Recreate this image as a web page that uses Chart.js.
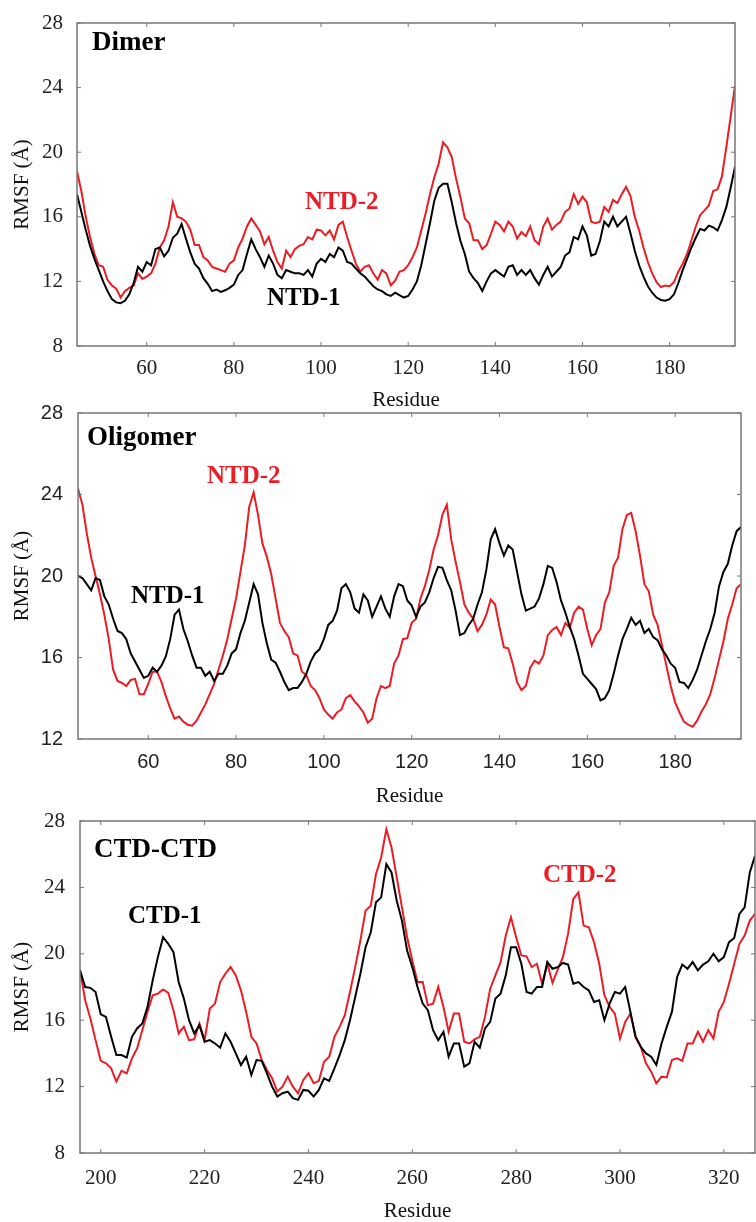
<!DOCTYPE html>
<html>
<head>
<meta charset="utf-8">
<script src="https://cdn.jsdelivr.net/npm/chart.js@4"></script>
<style>
  html, body { margin: 0; padding: 0; background: #fff; overflow: hidden; }
  canvas { position: absolute; left: 0; }
</style>
</head>
<body>
<canvas id="dimerChart" width="756" height="415" style="top:0px"></canvas>
<canvas id="oligomerChart" width="756" height="415" style="top:400px"></canvas>
<canvas id="ctdChart" width="756" height="414" style="top:810px"></canvas>
<script>
// first residue of each series (one value per residue)
var ntdStart = 44;
var ctdStart = 196;

// tick labels
var ntdTicksX = [60, 80, 100, 120, 140, 160, 180];
var ctdTicksX = [200, 220, 240, 260, 280, 300, 320];
var ticksY8 = [8, 12, 16, 20, 24, 28];
var ticksY12 = [12, 16, 20, 24, 28];

// Dimer, residues 44-195
var dimerNtd1 = [
  17.4,16.3,15.2,14.2,13.4,12.7,12.0,11.4,10.9,10.7,
  10.65,10.8,11.2,11.9,12.9,12.6,13.2,13.0,14.0,14.1,
  13.55,13.9,14.7,14.95,15.55,14.65,13.8,13.1,12.8,12.2,
  11.85,11.4,11.5,11.35,11.45,11.6,11.8,12.4,12.7,13.7,
  14.6,14.0,13.5,12.9,13.6,13.1,12.4,12.2,12.7,12.6,
  12.5,12.5,12.4,12.7,12.3,13.1,13.4,13.2,13.7,13.5,
  14.1,13.9,13.2,13.1,12.8,12.5,12.3,12.0,11.7,11.5,
  11.4,11.2,11.1,11.3,11.15,11.0,11.1,11.5,12.0,13.0,
  14.3,15.6,17.0,17.8,18.05,18.05,16.9,15.6,14.5,13.7,
  12.6,12.2,11.9,11.4,12.0,12.5,12.7,12.5,12.3,12.9,
  13.0,12.4,12.7,12.4,12.7,12.2,11.8,12.4,12.9,12.3,
  12.6,12.9,13.6,13.8,14.75,14.6,15.4,14.85,13.6,13.7,
  14.5,15.7,15.4,16.0,15.4,15.7,16.0,15.0,13.9,13.0,
  12.3,11.7,11.3,11.0,10.85,10.8,10.9,11.2,11.9,12.7,
  13.4,14.1,14.7,15.25,15.15,15.45,15.35,15.15,15.8,16.6,
  17.8,19.1
];
var dimerNtd2 = [
  18.8,17.6,16.0,14.75,13.7,13.0,12.9,12.1,11.75,11.55,
  11.0,11.4,11.6,11.75,12.5,12.15,12.3,12.5,13.1,14.1,
  14.55,15.4,16.9,16.0,15.9,15.7,15.2,14.25,14.25,13.5,
  13.3,12.9,12.8,12.7,12.6,13.1,13.3,14.1,14.65,15.4,
  15.9,15.5,15.1,14.3,14.75,13.9,13.2,12.8,13.9,13.5,
  14.0,14.2,14.3,14.75,14.6,15.2,15.15,14.85,15.15,14.6,
  15.5,15.7,14.75,13.9,13.1,12.6,12.9,13.0,12.5,12.1,
  12.7,12.5,11.75,12.05,12.6,12.7,13.0,13.5,14.1,15.15,
  16.2,17.4,18.45,19.3,20.6,20.3,19.7,18.35,17.2,15.9,
  15.6,14.55,14.55,14.0,14.25,14.95,15.7,15.5,15.1,15.7,
  15.4,14.65,15.05,14.8,15.4,14.55,14.3,15.4,15.9,15.2,
  15.5,15.7,16.3,16.5,17.4,16.8,17.25,16.9,15.7,15.6,
  15.7,16.6,16.3,17.05,16.85,17.4,17.85,17.3,16.0,15.15,
  14.1,13.2,12.5,11.95,11.65,11.75,11.7,11.95,12.6,13.1,
  13.7,14.55,15.4,16.1,16.4,16.7,17.6,17.7,18.5,20.3,
  22.2,24.1
];

// Oligomer, residues 44-195
var oligoNtd1 = [
  20.0,19.9,19.6,19.3,19.9,19.8,19.0,18.6,17.9,17.3,
  17.2,16.9,16.2,15.8,15.4,15.0,15.1,15.5,15.3,15.6,
  16.05,16.9,18.1,18.35,17.4,16.8,16.1,15.5,15.5,15.1,
  15.3,14.85,15.2,15.2,15.6,16.2,16.4,17.2,17.8,18.7,
  19.6,19.1,17.7,16.7,15.9,15.75,15.3,14.8,14.4,14.5,
  14.5,14.8,15.2,15.8,16.2,16.4,16.9,17.6,17.8,18.3,
  19.4,19.6,19.2,18.4,18.2,19.1,18.8,18.0,18.5,19.0,
  18.4,18.0,19.0,19.6,19.5,18.8,18.55,18.0,18.5,18.7,
  19.2,19.9,20.45,20.4,19.8,19.3,18.3,17.1,17.2,17.6,
  17.9,18.6,19.2,20.3,21.8,22.3,21.6,21.0,21.5,21.3,
  20.2,19.1,18.3,18.4,18.5,18.9,19.6,20.5,20.4,19.7,
  18.8,18.2,17.5,16.9,16.1,15.2,14.95,14.7,14.45,13.9,
  14.0,14.4,15.2,16.1,16.9,17.4,17.95,17.6,17.8,17.2,
  17.4,17.0,16.85,16.4,16.1,15.7,15.5,14.8,14.75,14.5,
  14.9,15.4,16.1,16.8,17.4,18.2,19.5,20.2,20.6,21.5,
  22.2,22.4
];
var oligoNtd2 = [
  24.3,23.5,22.1,20.9,20.0,19.1,18.1,16.9,15.4,14.85,
  14.75,14.6,14.9,14.95,14.2,14.2,14.7,15.3,15.3,14.8,
  14.1,13.5,13.0,13.1,12.85,12.7,12.65,12.9,13.3,13.7,
  14.2,14.7,15.4,16.1,16.9,17.9,18.9,20.2,21.5,23.4,
  24.1,23.0,21.6,20.95,20.1,18.9,17.7,17.3,17.0,16.2,
  16.1,15.3,15.15,14.6,14.4,14.0,13.45,13.2,13.0,13.3,
  13.45,14.0,14.15,13.85,13.6,13.3,12.8,13.0,14.0,14.6,
  14.5,14.6,15.7,16.1,16.9,16.95,17.7,17.9,18.9,19.5,
  20.3,21.3,22.0,23.0,23.5,21.8,20.7,19.7,18.6,18.2,
  17.9,17.3,17.6,18.1,18.85,18.6,17.5,16.5,16.45,15.7,
  14.8,14.4,14.6,15.5,15.85,15.7,16.1,17.1,17.35,17.5,
  17.1,17.7,17.45,18.2,18.5,18.35,17.4,16.6,17.1,17.4,
  18.7,19.2,20.5,20.9,22.3,23.0,23.1,22.2,21.0,19.6,
  19.25,18.1,17.6,16.6,15.6,14.6,13.8,13.3,12.85,12.7,
  12.6,12.9,13.35,13.7,14.2,15.0,15.9,16.8,17.9,18.6,
  19.4,19.6
];

// CTD-CTD, residues 196-326
var ctdCtd1 = [
  19.0,18.0,17.95,17.7,16.35,16.2,15.0,13.9,13.9,13.75,
  15.0,15.5,15.8,16.8,18.4,19.8,21.0,20.6,20.1,18.3,
  17.3,16.0,15.2,15.7,14.7,14.8,14.6,14.35,15.2,14.7,
  14.0,13.3,13.8,12.7,13.6,13.55,12.8,12.0,11.4,11.6,
  11.7,11.3,11.2,11.8,11.75,11.4,11.8,12.5,12.35,13.1,
  13.9,14.8,16.0,17.4,18.8,20.4,21.3,23.1,23.4,25.4,
  24.9,23.2,22.0,20.2,19.2,18.0,17.0,16.6,15.4,14.8,
  15.3,13.8,14.6,14.6,13.2,13.4,14.7,14.35,15.5,15.9,
  17.3,17.6,18.7,20.4,20.4,19.4,17.7,17.6,18.0,18.0,
  19.5,19.1,19.2,19.45,19.35,18.2,18.3,18.0,17.8,17.1,
  17.2,16.0,17.0,17.7,17.6,18.0,16.5,15.0,14.4,14.0,
  13.8,13.3,14.6,15.6,16.5,18.6,19.35,19.1,19.5,19.0,
  19.35,19.55,20.0,19.55,19.8,20.7,20.95,22.4,22.8,24.9,
  25.9
];
var ctdCtd2 = [
  19.05,17.2,16.1,14.8,13.55,13.4,13.1,12.3,12.95,12.8,
  13.7,14.3,15.4,16.5,17.5,17.6,17.85,17.65,16.6,15.2,
  15.6,14.8,14.85,15.8,14.8,16.7,17.0,18.3,18.8,19.2,
  18.7,17.8,16.5,15.0,14.6,13.6,13.0,12.5,11.7,12.0,
  12.6,12.0,11.6,12.4,12.8,12.2,12.35,13.5,13.8,15.0,
  15.6,16.3,17.7,19.2,20.8,22.6,22.9,24.8,25.8,27.5,
  26.4,24.6,22.8,21.0,19.6,18.3,18.3,16.9,17.0,18.0,
  16.8,15.3,16.4,16.4,14.7,14.6,14.85,15.0,16.2,17.9,
  18.7,19.5,21.1,22.2,21.0,19.9,19.85,19.2,19.4,18.2,
  19.4,18.25,19.05,19.8,21.2,23.3,23.7,21.7,21.6,20.7,
  19.4,17.5,16.8,16.4,14.9,15.9,16.4,15.0,14.4,13.4,
  12.9,12.2,12.6,12.55,13.6,13.7,13.55,14.6,14.6,15.3,
  14.7,15.4,14.9,16.5,17.1,18.2,19.4,20.6,21.1,22.0,
  22.4
];

var black = '#000000';
var red = '#ec1c24';
var serif = 'Liberation Serif';
var sans = 'Liberation Sans';

function toPoints(start, values) {
  return values.map(function (v, i) { return { x: start + i, y: v }; });
}

// plot frame with small inward tick marks on all four sides
var framePlugin = {
  id: 'frame',
  afterDatasetsDraw: function (chart) {
    var a = chart.chartArea, ctx = chart.ctx;
    var xs = chart.scales.x, ys = chart.scales.y;
    ctx.save();
    ctx.strokeStyle = '#777';
    ctx.lineWidth = 1;
    ctx.beginPath();
    xs.ticks.forEach(function (t) {
      var px = xs.getPixelForValue(t.value);
      ctx.moveTo(px, a.top); ctx.lineTo(px, a.top + 4);
      ctx.moveTo(px, a.bottom); ctx.lineTo(px, a.bottom - 4);
    });
    ys.ticks.forEach(function (t) {
      var py = ys.getPixelForValue(t.value);
      ctx.moveTo(a.left, py); ctx.lineTo(a.left + 4, py);
      ctx.moveTo(a.right, py); ctx.lineTo(a.right - 4, py);
    });
    ctx.stroke();
    ctx.lineWidth = 1.5;
    ctx.strokeRect(a.left, a.top, a.right - a.left, a.bottom - a.top);
    ctx.restore();
  }
};

// panel name and series labels
var labelPlugin = {
  id: 'panelLabels',
  afterDraw: function (chart, args, opts) {
    var ctx = chart.ctx;
    ctx.save();
    ctx.textBaseline = 'alphabetic';
    ctx.textAlign = 'left';
    (opts.items || []).forEach(function (it) {
      ctx.font = it.font;
      ctx.fillStyle = it.color;
      ctx.fillText(it.text, it.x, it.y);
    });
    ctx.restore();
  }
};

function makePanel(id, p) {
  var ctx = document.getElementById(id).getContext('2d');
  return new Chart(ctx, {
    type: 'line',
    data: {
      datasets: [
        { data: toPoints(p.start, p.s1), borderColor: black, borderWidth: 2, pointRadius: 0, tension: 0, fill: false },
        { data: toPoints(p.start, p.s2), borderColor: red, borderWidth: 2, pointRadius: 0, tension: 0, fill: false }
      ]
    },
    options: {
      responsive: false,
      animation: false,
      devicePixelRatio: 1,
      events: [],
      layout: { padding: { top: p.padTop, right: p.padRight, left: 0, bottom: 0 } },
      plugins: {
        legend: { display: false },
        tooltip: { enabled: false },
        panelLabels: { items: p.labels }
      },
      scales: {
        x: {
          type: 'linear',
          min: p.xMin,
          max: p.xMax,
          afterBuildTicks: function (s) { s.ticks = p.xTicks.map(function (v) { return { value: v }; }); },
          afterFit: function (s) { s.height = p.xHeight; s.paddingLeft = 0; s.paddingRight = 0; },
          grid: { display: false, drawTicks: false },
          border: { display: false },
          ticks: { font: { family: p.tickFamily, size: p.tickSize }, color: '#222', padding: p.xTickPad, maxRotation: 0, autoSkip: false },
          title: { display: true, text: 'Residue', color: '#111', font: { family: serif, size: 21 }, padding: { top: 0, bottom: p.titlePad } }
        },
        y: {
          type: 'linear',
          min: p.yMin,
          max: 28,
          afterBuildTicks: function (s) { s.ticks = p.yTicks.map(function (v) { return { value: v }; }); },
          afterFit: function (s) { s.width = p.yWidth; s.paddingTop = 0; s.paddingBottom = 0; },
          grid: { display: false, drawTicks: false },
          border: { display: false },
          ticks: { font: { family: p.tickFamily, size: p.tickSize }, color: '#222', padding: p.yTickPad, autoSkip: false },
          title: { display: true, text: 'RMSF (Å)', color: '#111', font: { family: serif, size: 21 }, padding: { top: 10, bottom: 0 } }
        }
      }
    },
    plugins: [framePlugin, labelPlugin]
  });
}

var bold = 'bold 27px "Liberation Serif"';
var boldLabel = 'bold 25px "Liberation Serif"';

makePanel('dimerChart', {
  start: ntdStart, s1: dimerNtd1, s2: dimerNtd2,
  xMin: 44, xMax: 195, yMin: 8, xTicks: ntdTicksX, yTicks: ticksY8,
  padTop: 23, padRight: 21, yWidth: 77, xHeight: 69,
  tickFamily: serif, tickSize: 21, xTickPad: 10, yTickPad: 14, titlePad: 2,
  labels: [
    { text: 'Dimer', x: 92, y: 50, font: bold, color: black },
    { text: 'NTD-2', x: 305, y: 209, font: boldLabel, color: red },
    { text: 'NTD-1', x: 267, y: 305, font: boldLabel, color: black }
  ]
});

makePanel('oligomerChart', {
  start: ntdStart, s1: oligoNtd1, s2: oligoNtd2,
  xMin: 44, xMax: 195, yMin: 12, xTicks: ntdTicksX, yTicks: ticksY12,
  padTop: 13, padRight: 15, yWidth: 78, xHeight: 76,
  tickFamily: sans, tickSize: 20, xTickPad: 11, yTickPad: 15, titlePad: 6,
  labels: [
    { text: 'Oligomer', x: 87, y: 45, font: bold, color: black },
    { text: 'NTD-2', x: 207, y: 83, font: boldLabel, color: red },
    { text: 'NTD-1', x: 131, y: 203, font: boldLabel, color: black }
  ]
});

makePanel('ctdChart', {
  start: ctdStart, s1: ctdCtd1, s2: ctdCtd2,
  xMin: 196, xMax: 326, yMin: 8, xTicks: ctdTicksX, yTicks: ticksY8,
  padTop: 11, padRight: 1, yWidth: 80, xHeight: 71,
  tickFamily: serif, tickSize: 21, xTickPad: 13, yTickPad: 15, titlePad: 0,
  labels: [
    { text: 'CTD-CTD', x: 94, y: 47, font: bold, color: black },
    { text: 'CTD-1', x: 128, y: 113, font: boldLabel, color: black },
    { text: 'CTD-2', x: 543, y: 72, font: boldLabel, color: red }
  ]
});
</script>
</body>
</html>
